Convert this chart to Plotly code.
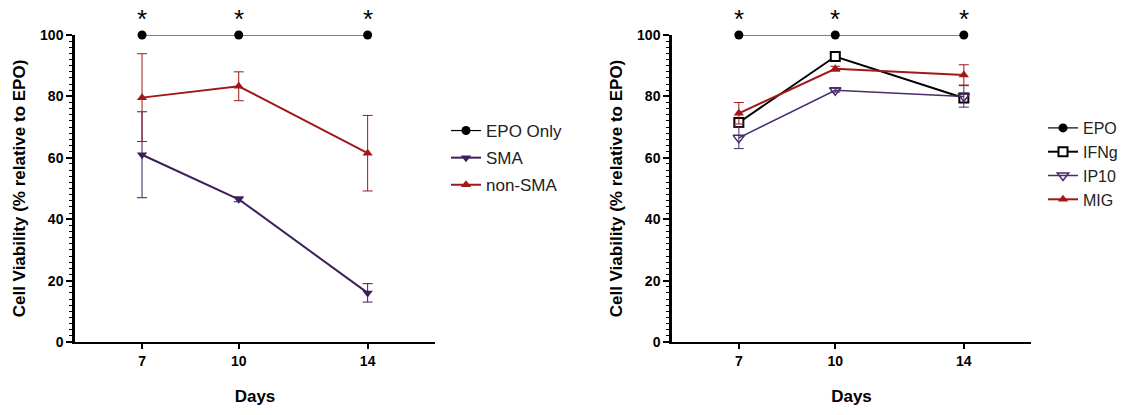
import plotly.graph_objects as go

days = [7, 10, 14]
day_labels = ["7", "10", "14"]

# Left panel
epo_only = [100, 100, 100]
sma = [61, 46.5, 16]
sma_err = [14, 0.8, 3]
non_sma = [79.6, 83.3, 61.5]
non_sma_err = [14.3, 4.7, 12.3]

# Right panel
epo = [100, 100, 100]
ifng = [71.5, 93, 79.5]
ifng_err = [1.0, 0.6, 1.5]
ip10 = [66.5, 82, 80]
ip10_err = [3.5, 0.6, 3.5]
mig = [74.5, 89, 87]
mig_err = [3.5, 0.8, 3.3]

stars = ["*", "*", "*"]

FONT = "Liberation Sans, Arial, sans-serif"
BLACK = "#000000"
PURPLE = "#3d1f5c"
RED = "#a01818"
PURPLE2 = "#4a2a6a"

fig = go.Figure()


def add(x, y, err, name, color, symbol, lw, xa, ya, legend, group, msize=9, mcolor=None, mline=None):
    marker = dict(symbol=symbol, size=msize, color=mcolor or color,
                  line=dict(color=color, width=mline if mline is not None else 0))
    fig.add_trace(go.Scatter(
        x=x, y=y, name=name, mode="lines+markers",
        line=dict(color=color, width=lw),
        marker=marker,
        error_y=(dict(type="data", array=err, visible=True, color=color, thickness=1, width=5)
                 if err is not None else None),
        xaxis=xa, yaxis=ya, legend=legend, legendgroup=group, cliponaxis=False,
    ))


add(days, epo_only, None, "EPO Only", BLACK, "circle", 1.2, "x", "y", "legend", "a")
add(days, sma, sma_err, "SMA", PURPLE, "triangle-down", 2, "x", "y", "legend", "b")
add(days, non_sma, non_sma_err, "non-SMA", RED, "triangle-up", 2, "x", "y", "legend", "c")

add(days, epo, None, "EPO", BLACK, "circle", 1.2, "x2", "y2", "legend2", "d")
add(days, ifng, ifng_err, "IFNg", BLACK, "square", 2, "x2", "y2", "legend2", "e",
    msize=9, mcolor="white", mline=2)
add(days, ip10, ip10_err, "IP10", PURPLE2, "triangle-down-open", 1.5, "x2", "y2", "legend2", "f",
    msize=10, mline=1.5)
add(days, mig, mig_err, "MIG", RED, "triangle-up", 2, "x2", "y2", "legend2", "g")

for xr, yr in [("x", "y"), ("x2", "y2")]:
    for d, s in zip(days, stars):
        fig.add_annotation(x=d, y=100, xref=xr, yref=yr,
                           text=s, showarrow=False, yshift=-1, yanchor="bottom",
                           font=dict(family=FONT, size=26, color=BLACK))

W, H = 1134, 415
ML, MR, MT, MB = 5, 5, 20, 5
PW, PH = W - ML - MR, H - MT - MB


def px(p):
    return (p - ML) / PW


def py(p):
    return (H - MB - p) / PH


xdom1 = [px(75), px(435)]
xdom2 = [px(672), px(1031)]
ydom = [py(342), py(35)]

xcommon = dict(range=[4.92, 16.09], tickmode="array", tickvals=days, ticktext=day_labels,
               ticks="outside", ticklen=5, tickwidth=2, tickcolor=BLACK, automargin=False,
               showline=True, linewidth=2, linecolor=BLACK, showgrid=False, zeroline=False,
               tickfont=dict(family=FONT, size=14, color=BLACK, weight="bold"),
               title=dict(text="Days", font=dict(family=FONT, size=17, color=BLACK, weight="bold"),
                          standoff=22))
ycommon = dict(range=[0, 100], tickmode="array", tickvals=[0, 20, 40, 60, 80, 100],
               ticks="outside", ticklen=6, tickwidth=2, tickcolor=BLACK, automargin=False,
               minor=dict(dtick=2, ticks="outside", ticklen=3, tickwidth=1, tickcolor=BLACK,
                          showgrid=False),
               showline=True, linewidth=2.5, linecolor=BLACK, showgrid=False, zeroline=False,
               tickfont=dict(family=FONT, size=14, color=BLACK, weight="bold"),
               title=dict(text="Cell Viability (% relative to EPO)",
                          font=dict(family=FONT, size=17, color=BLACK, weight="bold"), standoff=11))

fig.update_layout(
    width=W, height=H,
    margin=dict(l=ML, r=MR, t=MT, b=MB, autoexpand=False),
    paper_bgcolor="white", plot_bgcolor="white",
    xaxis=dict(domain=xdom1, anchor="y", **xcommon),
    yaxis=dict(domain=ydom, anchor="x", **ycommon),
    xaxis2=dict(domain=xdom2, anchor="y2", **xcommon),
    yaxis2=dict(domain=ydom, anchor="x2", **ycommon),
    legend=dict(x=px(446), y=py(113), xanchor="left", yanchor="top",
                font=dict(family=FONT, size=17, color="#222222"),
                traceorder="grouped", tracegroupgap=2, bgcolor="rgba(0,0,0,0)"),
    legend2=dict(x=px(1043), y=py(111), xanchor="left", yanchor="top",
                 font=dict(family=FONT, size=16, color="#222222"),
                 traceorder="grouped", tracegroupgap=0, bgcolor="rgba(0,0,0,0)"),
    showlegend=True,
)

# remove the default page margin so the figure fills the window exactly
fig.write_html("out.html",
               config={"displayModeBar": False},
               post_script="document.body.style.margin='0';document.body.style.overflow='hidden';")
